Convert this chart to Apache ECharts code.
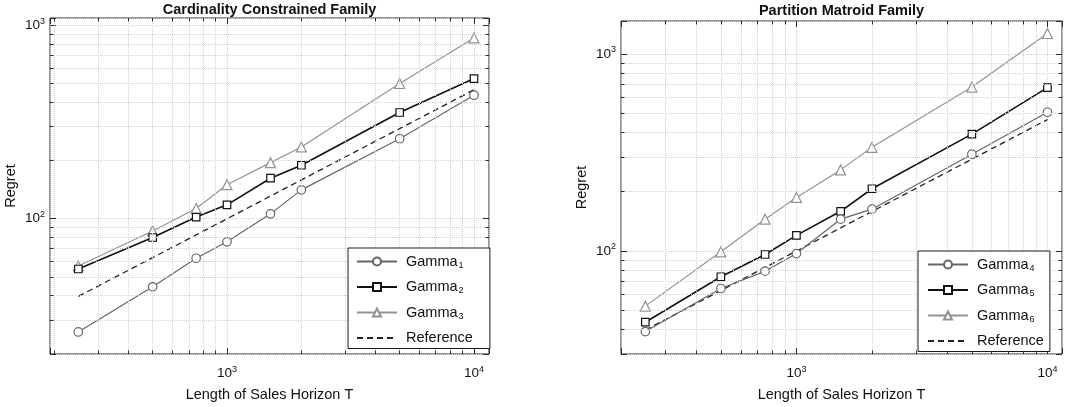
<!DOCTYPE html>
<html><head><meta charset="utf-8">
<script src="https://cdn.jsdelivr.net/npm/echarts@6/dist/echarts.min.js"></script>
<style>html,body{margin:0;padding:0;background:#fff}#c{width:1065px;height:407px}</style>
</head><body><div id="c"></div>
<script>
// ---- data ----
const T = [250, 500, 750, 1000, 1500, 2000, 5000, 10000];
const gamma1 = [26, 44.5, 62.5, 76, 106, 141, 259, 435];
const gamma2 = [55, 80, 102, 118, 162, 189, 354, 530];
const gamma3 = [57, 86.5, 113, 150, 195, 235, 500, 860];
const gamma4 = [39, 64.5, 79, 97, 145, 163, 310, 506];
const gamma5 = [43.5, 74, 96, 120, 159, 207, 392, 675];
const gamma6 = [52.5, 99, 145, 187, 258, 336, 679, 1270];
const reference = [39.7, 63, 82.5, 100, 131, 158.7, 292.4, 464.2];

const titles = ['Cardinality Constrained Family', 'Partition Matroid Family'];
const xName = 'Length of Sales Horizon T';
const yName = 'Regret';

// minor grid / tick values
const minorX = [200, 300, 400, 500, 600, 700, 800, 900, 2000, 3000, 4000, 5000, 6000, 7000, 8000, 9000];
const minorY = [30, 40, 50, 60, 70, 80, 90, 200, 300, 400, 500, 600, 700, 800, 900];

// ---- layout ----
const grids = [
  {left: 50, top: 18, width: 439, height: 341, xMin: 192, xMax: 11500, yMin: 20, yMax: 1090, titleY: 2,
   legend: {left: 348, top: 248, padding: [6, 17, 3, 8]}},
  {left: 621, top: 21, width: 441, height: 340, xMin: 200, xMax: 11430, yMin: 30, yMax: 1470, titleY: 3,
   legend: {left: 918, top: 251, padding: [6, 6, 3, 9]}}
];

const FONT = 'Liberation Sans, Arial, Helvetica, sans-serif';
const TXT = '#111';
const GRIDC = '#d2d2d2';

function expLabel(v) {
  const e = Math.log10(v);
  if (Math.abs(e - Math.round(e)) > 1e-6) return '';
  return '{b|10}{s|' + Math.round(e) + '}';
}
const labelRich = {
  b: {fontSize: 13.5, fontFamily: FONT, color: TXT},
  s: {fontSize: 9, fontFamily: FONT, color: TXT, padding: [0, 0, 8, 0]}
};

const chart = echarts.init(document.getElementById('c'), null, {renderer: 'canvas'});

const option = {
  backgroundColor: '#fff',
  animation: false,
  graphic: [],
  grid: [], xAxis: [], yAxis: [], legend: [], series: []
};

const styles = [
  {symbol: 'circle', size: 8.5, color: '#666', width: 1.2, type: 'solid'},
  {symbol: 'rect', size: 7.5, color: '#111', width: 1.6, type: 'solid'},
  {symbol: 'triangle', size: 10, color: '#939393', width: 1.2, type: 'solid'},
  {symbol: 'none', size: 0, color: '#222', width: 1.3, type: [6, 4]}
];

const seriesSets = [
  [['Gamma1', gamma1], ['Gamma2', gamma2], ['Gamma3', gamma3], ['Reference', reference]],
  [['Gamma4', gamma4], ['Gamma5', gamma5], ['Gamma6', gamma6], ['Reference', reference]]
];

grids.forEach((g, gi) => {
  option.grid.push({left: g.left, top: g.top, width: g.width, height: g.height,
    show: true, borderColor: '#2a2a2a', borderWidth: 1, backgroundColor: 'transparent'});
  const cx = g.left + g.width / 2;
  option.graphic.push({type: 'text', x: cx, y: g.titleY, z: 50,
    style: {text: titles[gi], fontSize: 14.5, fontWeight: 'bold', fontFamily: FONT, fill: TXT, textAlign: 'center'}});

  // bottom x
  option.xAxis.push({type: 'log', logBase: 10, gridIndex: gi, min: g.xMin, max: g.xMax, position: 'bottom',
    name: xName, nameLocation: 'middle', nameGap: 33,
    nameTextStyle: {fontSize: 14.5, fontFamily: FONT, color: TXT},
    axisLine: {show: false}, axisTick: {inside: true, length: 6, lineStyle: {color: '#2a2a2a'}},
    axisLabel: {formatter: expLabel, rich: labelRich, margin: 11, color: TXT},
    splitLine: {show: true, lineStyle: {color: GRIDC, type: 'dotted', width: 1}}});
  // top x (ticks only)
  option.xAxis.push({type: 'log', logBase: 10, gridIndex: gi, min: g.xMin, max: g.xMax, position: 'top',
    axisLine: {show: false}, axisTick: {inside: true, length: 6, lineStyle: {color: '#2a2a2a'}},
    axisLabel: {show: false}, splitLine: {show: false}});
  // left y
  option.yAxis.push({type: 'log', logBase: 10, gridIndex: gi, min: g.yMin, max: g.yMax, position: 'left',
    name: yName, nameLocation: 'middle', nameGap: 32, nameRotate: 90,
    nameTextStyle: {fontSize: 14.5, fontFamily: FONT, color: TXT},
    axisLine: {show: false}, axisTick: {inside: true, length: 6, lineStyle: {color: '#2a2a2a'}},
    axisLabel: {formatter: expLabel, rich: labelRich, margin: 5, color: TXT},
    splitLine: {show: true, lineStyle: {color: GRIDC, type: 'dotted', width: 1}}});
  // right y (ticks only)
  option.yAxis.push({type: 'log', logBase: 10, gridIndex: gi, min: g.yMin, max: g.yMax, position: 'right',
    axisLine: {show: false}, axisTick: {inside: true, length: 6, lineStyle: {color: '#2a2a2a'}},
    axisLabel: {show: false}, splitLine: {show: false}});

  const xi = gi * 2, yi = gi * 2;
  // minor grid and minor ticks
  const xs = minorX.filter(v => v > g.xMin && v < g.xMax);
  const ys = minorY.filter(v => v > g.yMin && v < g.yMax);
  const tickPx = 3.5;
  const ky = Math.pow(10, tickPx * Math.log10(g.yMax / g.yMin) / g.height);
  const kx = Math.pow(10, tickPx * Math.log10(g.xMax / g.xMin) / g.width);
  const gridData = xs.map(v => ({xAxis: v})).concat(ys.map(v => ({yAxis: v})));
  const tickData = [];
  xs.forEach(v => {
    tickData.push([{coord: [v, g.yMin]}, {coord: [v, g.yMin * ky]}]);
    tickData.push([{coord: [v, g.yMax]}, {coord: [v, g.yMax / ky]}]);
  });
  ys.forEach(v => {
    tickData.push([{coord: [g.xMin, v]}, {coord: [g.xMin * kx, v]}]);
    tickData.push([{coord: [g.xMax, v]}, {coord: [g.xMax / kx, v]}]);
  });
  option.series.push({type: 'line', name: '_grid' + gi, xAxisIndex: xi, yAxisIndex: yi, data: [],
    silent: true, z: 0,
    markLine: {silent: true, symbol: 'none', label: {show: false}, animation: false,
      lineStyle: {color: GRIDC, type: 'dotted', width: 1},
      data: gridData}});
  option.series.push({type: 'line', name: '_tick' + gi, xAxisIndex: xi, yAxisIndex: yi, data: [],
    silent: true, z: 1,
    markLine: {silent: true, symbol: 'none', label: {show: false}, animation: false,
      lineStyle: {color: '#2a2a2a', type: 'solid', width: 1},
      data: tickData}});

  seriesSets[gi].forEach(([name, vals], si) => {
    const st = styles[si];
    option.series.push({type: 'line', name: name, xAxisIndex: xi, yAxisIndex: yi, z: 2 + (3 - si) * 0.1,
      data: T.map((t, i) => [t, vals[i]]),
      symbol: st.symbol, symbolSize: st.size, showSymbol: st.symbol !== 'none',
      itemStyle: {color: '#fff', borderColor: st.color, borderWidth: 1.2},
      lineStyle: {color: st.color, width: st.width, type: st.type}});
  });

  option.legend.push({
    z: 20,
    data: seriesSets[gi].map(s => s[0] === 'Reference'
      ? {name: s[0], itemStyle: {color: 'rgba(0,0,0,0)', borderColor: 'rgba(0,0,0,0)', borderWidth: 0}}
      : {name: s[0]}),
    orient: 'vertical', left: g.legend.left, top: g.legend.top, padding: g.legend.padding,
    itemWidth: 40, itemHeight: 10, itemGap: 9.5,
    backgroundColor: '#fff', borderColor: '#1a1a1a', borderWidth: 1, borderRadius: 0,
    selectedMode: false,
    formatter: function (n) {
      if (n.indexOf('Gamma') === 0) return '{g|Gamma}{s|' + n.slice(5) + '}';
      return '{g|' + n + '}';
    },
    textStyle: {color: TXT, fontFamily: FONT, fontSize: 14.5, padding: [0, 0, 0, 4],
      rich: {g: {fontSize: 14.5, fontFamily: FONT, color: TXT},
             s: {fontSize: 9, fontFamily: FONT, color: TXT, padding: [8, 0, 0, 1]}}}
  });
});

chart.setOption(option);
</script></body></html>
